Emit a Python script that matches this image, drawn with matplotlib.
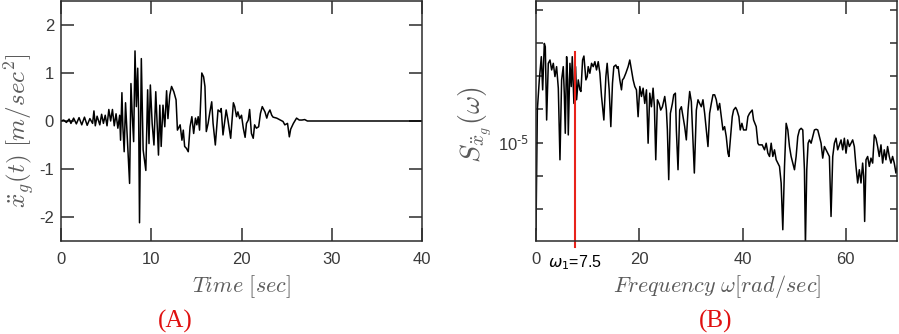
import numpy as np
import matplotlib
matplotlib.use('Agg')
import matplotlib.pyplot as plt
from matplotlib.ticker import FixedLocator, FixedFormatter, NullLocator

plt.rcParams['font.family'] = ['Liberation Sans', 'DejaVu Sans']
plt.rcParams['axes.unicode_minus'] = False

# ---------------- data (A): ground acceleration time history ----------------
time_s = [0, 0.3, 0.6, 0.9, 1.1, 1.4, 1.7, 2.0, 2.3, 2.6, 2.9, 3.2, 3.5, 3.65, 3.8,
          4.0, 4.3, 4.5, 4.7, 4.9, 5.1, 5.3, 5.5, 5.7, 5.9, 6.1, 6.3, 6.5, 6.6, 6.75,
          6.85, 7.0, 7.15, 7.3, 7.45, 7.6, 7.75, 7.9, 8.05, 8.2, 8.35, 8.5, 8.6, 8.7,
          8.9, 9.1, 9.4, 9.6, 9.75, 9.9, 10.1, 10.3, 10.5, 10.8, 10.95, 11.1, 11.3,
          11.5, 11.7, 11.85, 12.05, 12.25, 12.5, 12.75, 12.9, 13.2, 13.4, 13.55, 13.7,
          13.9, 14.1, 14.3, 14.5, 14.7, 14.9, 15.05, 15.2, 15.35, 15.6, 15.8, 15.95,
          16.1, 16.3, 16.5, 16.7, 16.85, 17.1, 17.25, 17.4, 17.65, 17.75, 17.95, 18.3,
          18.5, 18.8, 19.1, 19.25, 19.45, 19.6, 19.8, 20.0, 20.2, 20.4, 20.55, 20.75,
          20.9, 21.1, 21.3, 21.45, 21.65, 21.9, 22.1, 22.3, 22.6, 22.8, 22.95, 23.15,
          23.35, 23.5, 23.9, 24.3, 24.6, 24.8, 25.1, 25.3, 25.45, 25.75, 26.1, 26.4,
          26.7, 27.0, 27.3, 40.0]
accel = [0, 0.02, -0.03, 0.04, -0.05, 0.06, -0.06, 0.07, -0.08, 0.08, -0.09, 0.05, -0.05,
         0.21, -0.1, 0.1, -0.08, 0.14, -0.05, 0.12, -0.1, 0.24, 0.0, 0.24, -0.1, 0.15,
         -0.15, 0.12, -0.4, 0.59, -0.1, -0.64, 0.38, -0.2, -0.74, -1.3, 0.78, 0.1, -0.43,
         1.46, 0.3, 1.1, 0.2, -2.12, 1.3, -0.6, -1.03, 0.65, -0.47, 0.75, -0.05, -0.5,
         0.61, -0.71, 0.33, -0.53, 0.33, -0.12, 0.63, 0.05, 0.54, 0.72, 0.61, 0.44,
         -0.19, -0.08, -0.4, -0.19, -0.53, -0.57, -0.64, -0.12, 0.09, -0.26, 0.06, -0.08,
         0.09, -0.19, 1.0, 0.92, 0.72, -0.22, -0.05, 0.19, 0.4, -0.05, -0.5, -0.12, 0.23,
         0.19, 0.26, -0.29, 0.23, 0.02, -0.36, 0.38, 0.3, 0.09, 0.19, 0.05, 0.12, -0.15,
         -0.34, -0.05, 0.02, 0.24, -0.26, -0.36, -0.08, -0.15, -0.12, 0.16, 0.3, 0.19,
         0.06, 0.16, 0.23, 0.12, 0.08, 0.06, 0.02, -0.01, -0.08, -0.05, -0.33, -0.17,
         -0.05, 0.06, 0.02, 0.02, 0.03, 0.0, 0.0]
time_ticks = [0, 10, 20, 30, 40]
accel_ticks = [-2, -1, 0, 1, 2]

# ---------------- data (B): power spectral density ----------------
omega = [0.0, 0.26, 0.64, 1.03, 1.29, 1.61, 1.80, 2.06, 2.38, 2.71, 3.03, 3.35, 3.67,
         3.99, 4.32, 4.64, 4.96, 5.28, 5.48, 5.67, 5.93, 6.12, 6.25, 6.57, 6.83, 7.02,
         7.34, 7.67, 7.86, 8.18, 8.50, 8.70, 9.02, 9.28, 9.66, 9.92, 10.11, 10.43, 10.76,
         11.08, 11.40, 11.72, 12.05, 12.37, 12.69, 13.14, 13.53, 13.78, 14.17, 14.49,
         14.81, 15.07, 15.46, 15.72, 15.91, 16.23, 16.55, 16.75, 17.00, 17.39, 17.84,
         18.16, 18.49, 18.81, 19.13, 19.45, 19.77, 20.10, 20.42, 20.74, 21.06, 21.39,
         21.71, 22.03, 22.35, 22.67, 22.93, 23.19, 23.51, 23.83, 24.15, 24.48, 24.93,
         25.25, 25.44, 25.70, 26.02, 26.41, 26.67, 26.99, 27.18, 27.50, 27.83, 28.15,
         28.47, 28.79, 29.11, 29.44, 29.76, 30.08, 30.40, 30.66, 31.05, 31.37, 31.69,
         32.01, 32.33, 32.66, 32.98, 33.30, 33.62, 33.95, 34.27, 34.59, 34.91, 35.23,
         35.56, 35.88, 36.20, 36.52, 36.84, 37.17, 37.36, 37.68, 38.00, 38.26, 38.65,
         38.91, 39.29, 39.55, 39.87, 40.19, 40.71, 41.03, 41.35, 41.87, 42.13, 42.64,
         42.96, 43.16, 43.48, 43.80, 44.25, 44.57, 44.90, 45.22, 45.54, 45.86, 46.18,
         46.51, 46.83, 47.15, 47.47, 47.79, 48.12, 48.44, 48.76, 49.08, 49.40, 49.73,
         50.05, 50.37, 50.69, 51.01, 51.34, 51.66, 51.98, 52.17, 52.43, 52.69, 52.95,
         53.27, 53.59, 53.91, 54.24, 54.56, 54.88, 55.20, 55.52, 55.85, 56.17, 56.49,
         56.81, 57.13, 57.46, 57.78, 58.10, 58.42, 58.74, 59.07, 59.39, 59.71, 60.03,
         60.35, 60.68, 61.00, 61.32, 61.64, 61.96, 62.29, 62.61, 62.93, 63.25, 63.45,
         63.64, 63.90, 64.22, 64.54, 64.86, 65.19, 65.51, 65.83, 66.15, 66.47, 66.80,
         67.12, 67.44, 67.76, 68.08, 68.41, 68.73, 69.05, 69.37, 69.70, 70.0]
psd_log10 = [-7.63, -4.02, -3.11, -2.41, -3.41, -2.01, -2.11, -4.32, -2.61, -2.51, -2.81,
             -2.61, -3.01, -2.71, -3.36, -5.52, -3.11, -2.71, -3.51, -4.72, -2.41, -3.11,
             -4.77, -2.61, -3.31, -2.41, -3.82, -2.71, -3.71, -3.11, -3.41, -3.46, -2.51,
             -2.39, -3.11, -3.01, -2.71, -2.91, -2.61, -2.71, -2.56, -2.81, -2.56, -2.91,
             -3.61, -4.32, -3.01, -2.61, -3.41, -4.52, -3.21, -2.71, -2.66, -2.76, -2.71,
             -3.11, -3.41, -3.11, -3.06, -2.91, -2.71, -2.51, -2.81, -3.11, -3.31, -3.41,
             -4.22, -3.31, -3.61, -3.36, -3.82, -3.41, -5.02, -3.51, -3.92, -3.36, -3.92,
             -5.52, -3.71, -3.82, -4.02, -3.92, -3.61, -4.02, -4.62, -6.12, -4.12, -3.82,
             -3.56, -3.51, -4.62, -5.82, -4.02, -3.92, -4.22, -4.52, -4.92, -4.02, -3.46,
             -3.77, -4.92, -5.92, -4.02, -3.71, -3.82, -3.92, -3.71, -4.12, -4.62, -5.12,
             -4.12, -3.82, -3.56, -3.56, -3.71, -4.02, -3.82, -4.22, -4.62, -4.52, -4.82,
             -5.32, -5.42, -4.82, -4.22, -4.02, -3.94, -4.02, -4.22, -4.62, -4.42, -4.62,
             -4.62, -4.22, -4.12, -4.02, -4.32, -4.52, -5.02, -5.07, -5.07, -5.07, -5.22,
             -5.02, -5.32, -5.42, -5.02, -5.42, -5.22, -5.52, -5.62, -5.72, -6.22, -7.63,
             -5.72, -4.42, -4.62, -5.12, -5.42, -5.62, -5.82, -5.42, -4.82, -4.62, -4.57,
             -4.62, -5.82, -8.10, -5.82, -5.02, -4.92, -5.02, -4.82, -4.62, -4.60, -4.62,
             -4.82, -5.02, -5.47, -5.12, -5.22, -5.32, -5.42, -7.23, -5.42, -5.02, -4.87,
             -5.22, -5.07, -4.92, -5.22, -4.87, -5.32, -4.92, -5.12, -5.02, -4.92, -5.12,
             -5.72, -6.22, -5.82, -6.22, -5.62, -6.02, -7.38, -5.52, -5.42, -5.72, -5.47,
             -5.62, -4.77, -4.87, -5.12, -5.42, -5.07, -5.62, -5.22, -5.52, -5.12, -5.42,
             -5.62, -5.42, -5.62, -5.92, -5.70]
freq_ticks = [0, 20, 40, 60]
psd_decades = [-7, -6, -5, -4, -3, -2, -1]
omega_1 = 7.5

# ---------------- figure ----------------
W, H = 899, 334
fig = plt.figure(figsize=(W / 100, H / 100), dpi=100)
spine_c = '#2b2b2b'
tick_c = '#3a3a3a'
label_c = '#5a5a5a'

def style(ax, xlen, ylen):
    for s in ax.spines.values():
        s.set_color(spine_c)
        s.set_linewidth(1.1)
    ax.tick_params(axis='both', direction='in', top=True, right=True,
                   colors=spine_c, labelcolor=tick_c, labelsize=12, width=1.1)
    ax.tick_params(axis='x', length=xlen, pad=8)
    ax.tick_params(axis='y', length=ylen, pad=5)

# (A)
ax1 = fig.add_axes([61 / W, 1 - 241 / H, 361 / W, 240 / H])
ax1.plot(time_s, accel, color='black', lw=1.1)
ax1.set_xlim(0, 40)
ax1.set_ylim(-2.5, 2.5)
ax1.xaxis.set_major_locator(FixedLocator(time_ticks))
ax1.yaxis.set_major_locator(FixedLocator(accel_ticks))
ax1.set_xticklabels([str(v) for v in time_ticks])
ax1.set_yticklabels([str(v) for v in accel_ticks])
style(ax1, 9.5, 9.5)
ax1.set_xlabel(r'$Time\ [sec]$', fontsize=16, color=label_c, math_fontfamily='cm')
ax1.xaxis.set_label_coords(0.5, -0.19)
ax1.xaxis.label.set_va('center')
ax1.set_ylabel(r'$\ddot{x}_g(t)\ [m/sec^2]$', fontsize=18, color=label_c,
               math_fontfamily='cm')
ax1.yaxis.set_label_coords(-0.114, 0.46)
ax1.yaxis.label.set_va('center')

# (B)
ax2 = fig.add_axes([536 / W, 1 - 241 / H, 361.5 / W, 240 / H])
ax2.semilogy(omega, [10.0 ** v for v in psd_log10], color='black', lw=1.1)
ax2.set_xlim(0, 70)
ax2.set_ylim(10 ** -7.97, 10 ** -0.73)
ax2.xaxis.set_major_locator(FixedLocator(freq_ticks))
ax2.set_xticklabels([str(v) for v in freq_ticks])
ax2.yaxis.set_major_locator(FixedLocator([10.0 ** d for d in psd_decades]))
ax2.yaxis.set_major_formatter(FixedFormatter(
    [r'$\mathregular{10^{\text{-%d}}}$' % (-d) if d == -5 else '' for d in psd_decades]))
ax2.yaxis.set_minor_locator(NullLocator())
style(ax2, 9.5, 5)
ax2.axvline(omega_1, ymin=-0.025, ymax=0.7875, color='#e8231b', lw=1.5, clip_on=False)
ax2.set_xlabel(r'$Frequency\ \omega[rad/sec]$', fontsize=16, color=label_c,
               math_fontfamily='cm')
ax2.xaxis.set_label_coords(0.5, -0.19)
ax2.xaxis.label.set_va('center')
ax2.set_ylabel(r'$S_{\ddot{x}_g}(\omega)$', fontsize=20, color=label_c,
               math_fontfamily='cm')
ax2.yaxis.set_label_coords(-0.169, 0.483)
ax2.yaxis.label.set_va('center')
ax2.text(omega_1, -0.09, r'$\omega_1$=7.5', transform=ax2.get_xaxis_transform(),
         ha='center', va='center', fontsize=11.5, color='black')

# panel letters
fig.text(175 / W, 1 - 321 / H, '(A)', color='#e01010', fontsize=18,
         family='Liberation Serif', ha='center', va='center')
fig.text(716 / W, 1 - 321 / H, '(B)', color='#e01010', fontsize=18,
         family='Liberation Serif', ha='center', va='center')

fig.savefig('out.png', dpi=100)
